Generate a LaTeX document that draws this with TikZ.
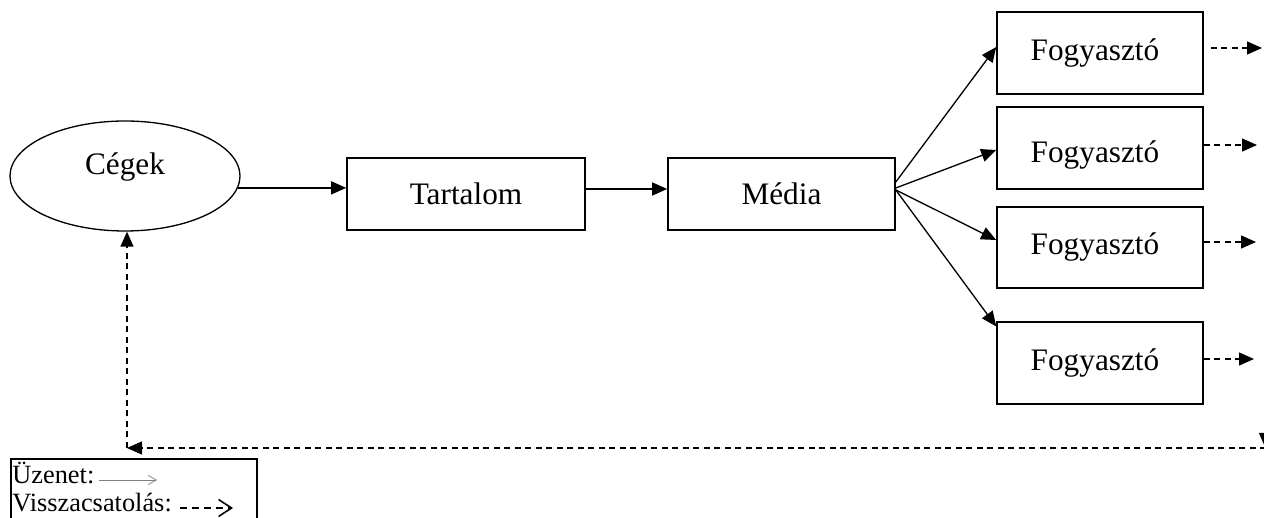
\documentclass[tikz,border=0pt]{standalone}
\usepackage{fontspec}
\setmainfont{Liberation Serif}
\usetikzlibrary{calc,shapes.geometric,arrows.meta}

\begin{document}
\begin{tikzpicture}[x=0.2mm,y=-0.2mm,
		doboz/.style={draw,line width=0.9pt,inner sep=0pt,font=\fontsize{17.8}{20}\selectfont},
		szoveg/.style={inner sep=0pt,font=\fontsize{17.8}{20}\selectfont},
		jel/.style={inner sep=0pt,font=\fontsize{15}{18}\selectfont},
		nyil/.style={line width=0.75pt,-{Triangle[length=0.3cm,width=0.26cm]}},
		vissza/.style={nyil,dash pattern=on 0.12cm off 0.09cm}]
		
		\useasboundingbox (0,0) rectangle (1264,518);
		
		% szereplok
		\node (cegek) at (125,176) [ellipse,draw,line width=0.75pt,minimum width=4.6cm,minimum height=2.2cm] {};
		\node (cegeknev) at ($(cegek)+(0,-9)$) [szoveg] {Cégek};
		\node (tartalom) at (466,194) [doboz,minimum width=4.76cm,minimum height=1.44cm] {Tartalom};
		\node (media) at (781.5,194) [doboz,minimum width=4.54cm,minimum height=1.44cm] {Média};
		
		\foreach \i/\y/\d in {1/53/0, 2/148/7, 3/247.5/0, 4/363/0} {
			\node (fogy\i) at (1100,\y) [doboz,minimum width=4.12cm,minimum height=1.63cm] {};
			\node (nev\i) at ($(fogy\i)+(-5,\d)$) [szoveg] {Fogyasztó};
		}
		
		% uzenet
		\draw[nyil] (cegek.-6) -- (cegek.-6 -| tartalom.west);
		\draw[nyil] ([yshift=0.1cm]tartalom.east) -- ([yshift=0.1cm]media.west);
		\foreach \i/\a/\b/\c in {1/0.24/west/0.12, 2/0.12/west/-0.04, 3/0.08/west/0.15, 4/0.08/north west/-0.1} {
			\draw[nyil] ([yshift=\a cm]media.east) -- ([yshift=\c cm]fogy\i.\b);
		}
		
		% visszacsatolas
		\foreach \i/\x/\y/\s in {1/1262/48/7, 2/1257/145/0, 3/1256/242/0, 4/1254/359/0} {
			\coordinate (ki\i) at (\x,\y);
			\draw[vissza] ($(fogy\i.east |- ki\i)+(\s,0)$) -- (ki\i);
		}
		\coordinate (sarok) at (127,448);
		\coordinate (jobbszel) at (1266,448);
		\coordinate (jobbfent) at (1265.5,300);
		\draw[vissza] (jobbfent) -- (jobbfent |- jobbszel);
		\draw[vissza] (jobbszel) -- (sarok);
		\draw[vissza] (sarok) -- (sarok |- cegek.south);
		
		% jelmagyarazat
		\node (jelmagyarazat) at (10,458) [anchor=north west,draw,line width=0.9pt,minimum width=4.92cm,minimum height=2cm] {};
		\node (uzenet) at (12,484) [anchor=base west,jel] {Üzenet:};
		\node (visszacs) at (12,512) [anchor=base west,jel] {Visszacsatolás:};
		\coordinate (uzenetvege) at (157,480);
		\coordinate (visszavege) at (233,508);
		\draw[gray,line width=0.4pt,-{Straight Barb[length=0.16cm,width=0.18cm]}] (uzenet.east |- uzenetvege) ++(4,0) -- (uzenetvege);
		\draw[line width=0.9pt,dash pattern=on 0.14cm off 0.1cm,-{Straight Barb[length=0.26cm,width=0.34cm]}] (visszacs.east |- visszavege) ++(8,0) -- (visszavege);
		
	\end{tikzpicture}
\end{document}
